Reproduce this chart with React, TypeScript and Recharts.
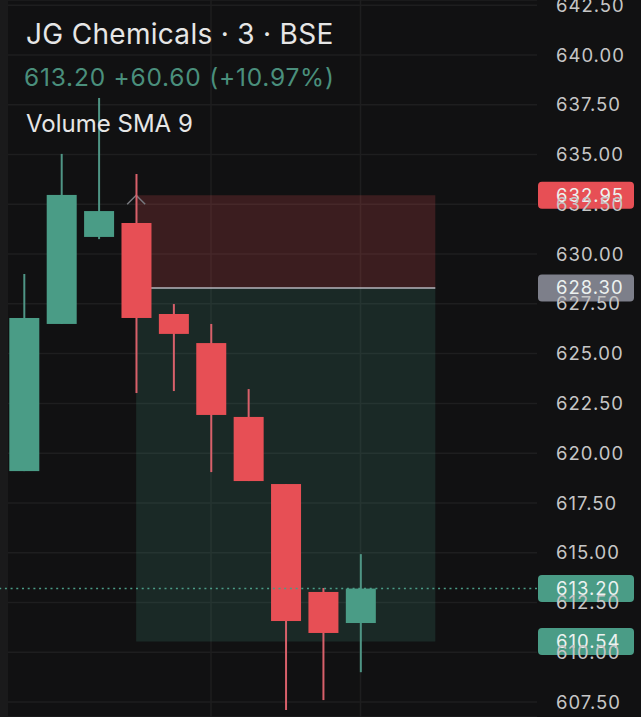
import {
  ComposedChart,
  Bar,
  XAxis,
  YAxis,
  CartesianGrid,
  ReferenceArea,
  ReferenceLine,
  ReferenceDot,
} from 'recharts'

const opens = [619.1, 626.49, 630.86, 631.56, 626.99, 625.53, 621.82, 618.45, 613.03, 611.47]
const closes = [626.79, 632.97, 632.16, 626.79, 625.99, 621.92, 618.6, 611.57, 610.97, 613.2]
const highs = [629.0, 635.03, 637.84, 634.02, 627.49, 626.49, 623.22, 618.45, 613.23, 614.93]
const lows = [619.1, 626.49, 630.75, 623.02, 623.12, 619.05, 618.6, 607.1, 607.6, 609.0]

const priceTicks = [
  607.5, 610, 612.5, 615, 617.5, 620, 622.5, 625, 627.5, 630, 632.5, 635, 637.5, 640, 642.5,
]
const timeLines = [5, 9]

const lastPrice = 613.2
const stopPrice = 632.95
const entryPrice = 628.3
const targetPrice = 610.54
const positionStart = 3
const positionEnd = 11

const UP = '#4a9c86'
const DOWN = '#e74f55'
const GREY = '#7d7f8a'
const FONT = 'Inter, sans-serif'

const data = opens.map((open, i) => ({
  i,
  open,
  close: closes[i],
  high: highs[i],
  low: lows[i],
  range: [lows[i], highs[i]],
}))

function Candle(props: any) {
  const { x, y, width, height, payload } = props
  const { open, close, high, low } = payload
  const perUnit = height / (high - low)
  const top = y + (high - Math.max(open, close)) * perUnit
  const bodyHeight = Math.abs(close - open) * perUnit
  const up = close >= open
  const mid = x + width / 2
  return (
    <g>
      <line x1={mid} x2={mid} y1={y} y2={y + height} stroke={up ? '#4f9585' : '#d8606a'} strokeWidth={2} />
      <rect x={x} y={top} width={width} height={bodyHeight} fill={up ? UP : DOWN} />
    </g>
  )
}

function PriceTag(props: any) {
  const { viewBox, text, fill } = props
  const y = viewBox.y
  const right = viewBox.x + viewBox.width
  return (
    <g>
      <rect x={right + 1} y={y - 13.5} width={96} height={27} rx={4} fill={fill} />
      <text x={right + 19} y={y + 6.5} fill="#ecf2f0" fontSize={18.5} fontFamily={FONT} letterSpacing={1}>
        {text}
      </text>
    </g>
  )
}

function Chevron(props: any) {
  const { cx, cy } = props
  return (
    <path
      d={`M${cx - 9} ${cy + 9} L${cx} ${cy} L${cx + 9} ${cy + 9}`}
      fill="none"
      stroke="#77797f"
      strokeWidth={1.5}
    />
  )
}

export default function App() {
  return (
    <div
      style={{
        position: 'absolute',
        left: 0,
        top: 0,
        width: 641,
        height: 717,
        background: '#111112',
        overflow: 'hidden',
      }}
    >
      <ComposedChart
        width={641}
        height={717}
        data={data}
        margin={{ top: 0, right: 0, bottom: 0, left: 0 }}
      >
        <CartesianGrid stroke="#1e1e1f" strokeWidth={1.5} vertical={false} />
        <XAxis
          dataKey="i"
          type="number"
          domain={[-0.642, 13.72]}
          height={0}
          tick={false}
          tickLine={false}
          axisLine={false}
          allowDataOverflow
        />
        <YAxis
          orientation="right"
          width={104}
          domain={[606.75, 642.76]}
          ticks={priceTicks}
          interval={0}
          allowDataOverflow
          axisLine={false}
          tickLine={false}
          tickSize={0}
          tickMargin={19}
          tick={{ fontSize: 18.5, fill: '#c6c6c6', fontFamily: FONT, textAnchor: 'start', letterSpacing: 1 }}
          tickFormatter={(v: number) => v.toFixed(2)}
        />
        {timeLines.map((t) => (
          <ReferenceLine key={t} x={t} stroke="#1e1e1f" strokeWidth={1.5} zIndex={50} />
        ))}
        <ReferenceLine x={-0.535} stroke="#1a1a1b" strokeWidth={8} zIndex={50} />
        <ReferenceArea
          x1={positionStart}
          x2={positionEnd}
          y1={entryPrice}
          y2={stopPrice}
          fill={DOWN}
          fillOpacity={0.2}
          stroke="none"
          zIndex={60}
        />
        <ReferenceArea
          x1={positionStart}
          x2={positionEnd}
          y1={targetPrice}
          y2={entryPrice}
          fill={UP}
          fillOpacity={0.18}
          stroke="none"
          zIndex={60}
        />
        <ReferenceLine
          segment={[
            { x: positionStart, y: entryPrice },
            { x: positionEnd, y: entryPrice },
          ]}
          stroke="#b4b4bc"
          strokeWidth={1.5}
          zIndex={70}
        />
        <ReferenceDot x={positionStart} y={stopPrice} r={5} shape={<Chevron />} zIndex={70} />
        <Bar dataKey="range" barSize={30} shape={<Candle />} isAnimationActive={false} />
        <ReferenceLine y={lastPrice} stroke={UP} strokeWidth={1.5} strokeDasharray="2 3.7" />
        <ReferenceLine
          y={stopPrice}
          stroke="none"
          label={<PriceTag text={stopPrice.toFixed(2)} fill={DOWN} />}
        />
        <ReferenceLine
          y={entryPrice}
          stroke="none"
          label={<PriceTag text={entryPrice.toFixed(2)} fill={GREY} />}
        />
        <ReferenceLine
          y={lastPrice}
          stroke="none"
          label={<PriceTag text={lastPrice.toFixed(2)} fill={UP} />}
        />
        <ReferenceLine
          y={targetPrice}
          stroke="none"
          label={<PriceTag text={targetPrice.toFixed(2)} fill={UP} />}
        />
      </ComposedChart>
      <div style={{ position: 'absolute', left: 26, top: 17, fontFamily: FONT, fontSize: 28, letterSpacing: 0.3, color: '#e6e6e6', whiteSpace: 'nowrap' }}>
        JG Chemicals · 3 · BSE
      </div>
      <div style={{ position: 'absolute', left: 24, top: 62, fontFamily: FONT, fontSize: 24.5, letterSpacing: 0.78, color: '#4a8f7c', whiteSpace: 'nowrap' }}>
        613.20 +60.60 (+10.97%)
      </div>
      <div style={{ position: 'absolute', left: 26, top: 109, fontFamily: FONT, fontSize: 24, color: '#e6e6e6', whiteSpace: 'nowrap' }}>
        Volume SMA 9
      </div>
    </div>
  )
}
